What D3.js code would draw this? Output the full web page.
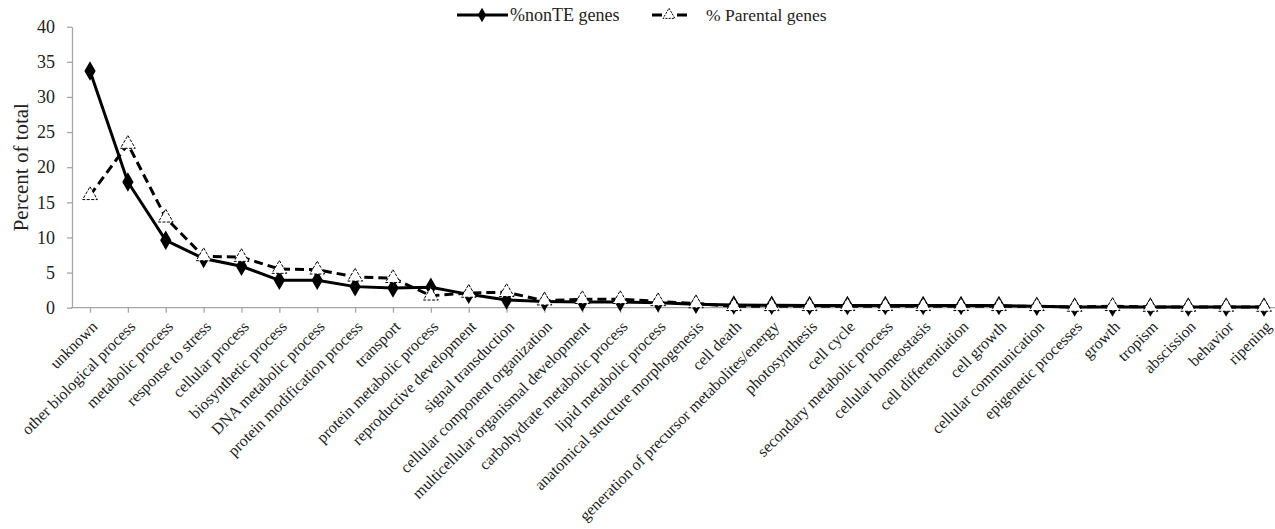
<!DOCTYPE html>
<html><head><meta charset="utf-8">
<script src="https://cdn.jsdelivr.net/npm/d3@7"></script>
<style>
body{margin:0;background:#fff;}
svg{display:block;}
svg text{font-family:"Liberation Serif","Times New Roman",Times,"DejaVu Serif",serif !important;}
</style></head>
<body><svg id="c" width="1275" height="529"></svg>
<script>
const categories = ["unknown","other biological process","metabolic process","response to stress","cellular process","biosynthetic process","DNA metabolic process","protein modification process","transport","protein metabolic process","reproductive development","signal transduction","cellular component organization","multicellular organismal development","carbohydrate metabolic process","lipid metabolic process","anatomical structure morphogenesis","cell death","generation of precursor metabolites/energy","photosynthesis","cell cycle","secondary metabolic process","cellular homeostasis","cell differentiation","cell growth","cellular communication","epigenetic processes","growth","tropism","abscission","behavior","ripening"];
const nonTE = [33.7,17.9,9.6,7.0,5.9,3.9,3.9,3.0,2.8,2.9,1.9,1.1,0.9,0.8,0.8,0.7,0.5,0.4,0.35,0.3,0.3,0.3,0.3,0.3,0.3,0.2,0.1,0.1,0.1,0.1,0.1,0.1];
const parental = [16.0,23.3,12.8,7.3,7.2,5.5,5.4,4.4,4.2,1.7,2.1,2.2,1.0,1.2,1.2,0.9,0.6,0.2,0.2,0.2,0.2,0.2,0.2,0.2,0.2,0.2,0.1,0.2,0.1,0.1,0.1,0.1];
const yTicks = [0,5,10,15,20,25,30,35,40];
const seriesNames = ["%nonTE genes","% Parental genes"];
const FONT = '"Liberation Serif","Times New Roman",Times,"DejaVu Serif",serif';

const svg = d3.select("#c");
const x = d3.scalePoint().domain(categories).range([90, 1264]);
const y = d3.scaleLinear().domain([0,40]).range([307.7, 26.7]);
const axisColor = "#a6a6a6", textColor = "#222";

// y axis
const ya = svg.append("g").attr("transform","translate(72,0)")
  .call(d3.axisLeft(y).tickValues(yTicks).tickSize(5).tickSizeOuter(0).tickPadding(12));
ya.attr("font-family", FONT);
ya.select(".domain").attr("stroke",axisColor).attr("stroke-width",1.3);
ya.selectAll(".tick line").attr("stroke",axisColor).attr("stroke-width",1.3);
ya.selectAll(".tick text").attr("font-size",18).attr("fill",textColor).style("font-family",FONT);

// x axis
const step = x(categories[1]) - x(categories[0]);
const xa = svg.append("g").attr("transform",`translate(0,${y(0)})`)
  .call(d3.axisBottom(x).tickSize(5).tickSizeOuter(0));
xa.attr("font-family", FONT);
xa.select(".domain").remove();
xa.append("line").attr("x1", x(categories[0]) - step/2).attr("x2", 1275).attr("stroke",axisColor).attr("stroke-width",1.3);
xa.selectAll(".tick line").attr("stroke",axisColor).attr("stroke-width",1.3);
xa.selectAll(".tick text")
  .attr("font-size",16).attr("fill",textColor).style("font-family",FONT)
  .attr("text-anchor","end").attr("dy",null).attr("y",null)
  .attr("transform","translate(8,20) rotate(-45)");

// y label
svg.append("text").attr("transform",`translate(28,${(y(0)+y(40))/2}) rotate(-90)`)
  .attr("text-anchor","middle").attr("font-size",21).attr("fill",textColor).style("font-family",FONT).text("Percent of total");

const line = d3.line().x((d,i)=>x(categories[i])).y(d=>y(d));
const diamond = d3.symbol().type(d3.symbolDiamond).size(110);
const tri = d3.symbol().type(d3.symbolTriangle).size(95);

// parental dashed
svg.append("path").datum(parental).attr("d",line).attr("fill","none").attr("stroke","#000").attr("stroke-width",3).attr("stroke-dasharray","9,5");
// nonTE solid
svg.append("path").datum(nonTE).attr("d",line).attr("fill","none").attr("stroke","#000").attr("stroke-width",3);
svg.selectAll(".dm").data(nonTE).enter().append("path")
  .attr("d",diamond).attr("transform",(d,i)=>`translate(${x(categories[i])},${y(d)})`).attr("fill","#000");
svg.selectAll(".tr").data(parental).enter().append("path")
  .attr("d",tri).attr("transform",(d,i)=>`translate(${x(categories[i])},${y(d)})`)
  .attr("fill","#fff").attr("stroke","#000").attr("stroke-width",1).attr("stroke-dasharray","3,1.5");

// legend
const legDiamond = d3.symbol().type(d3.symbolDiamond).size(60);
const legTri = d3.symbol().type(d3.symbolTriangle).size(60);
const lg = svg.append("g").attr("transform","translate(0,15)");
lg.append("line").attr("x1",457).attr("x2",508).attr("stroke","#000").attr("stroke-width",3);
lg.append("path").attr("d",legDiamond).attr("transform","translate(482,0)").attr("fill","#000");
lg.append("text").attr("x",510).attr("y",6).attr("font-size",18).attr("fill",textColor).style("font-family",FONT).text(seriesNames[0]);
lg.append("line").attr("x1",652).attr("x2",687).attr("stroke","#000").attr("stroke-width",3).attr("stroke-dasharray","10,15");
lg.append("path").attr("d",legTri).attr("transform","translate(669,0)").attr("fill","#fff").attr("stroke","#000").attr("stroke-width",1).attr("stroke-dasharray","2,1.2");
lg.append("text").attr("x",706).attr("y",6).attr("font-size",17.5).attr("fill",textColor).style("font-family",FONT).text(seriesNames[1]);
</script></body></html>
